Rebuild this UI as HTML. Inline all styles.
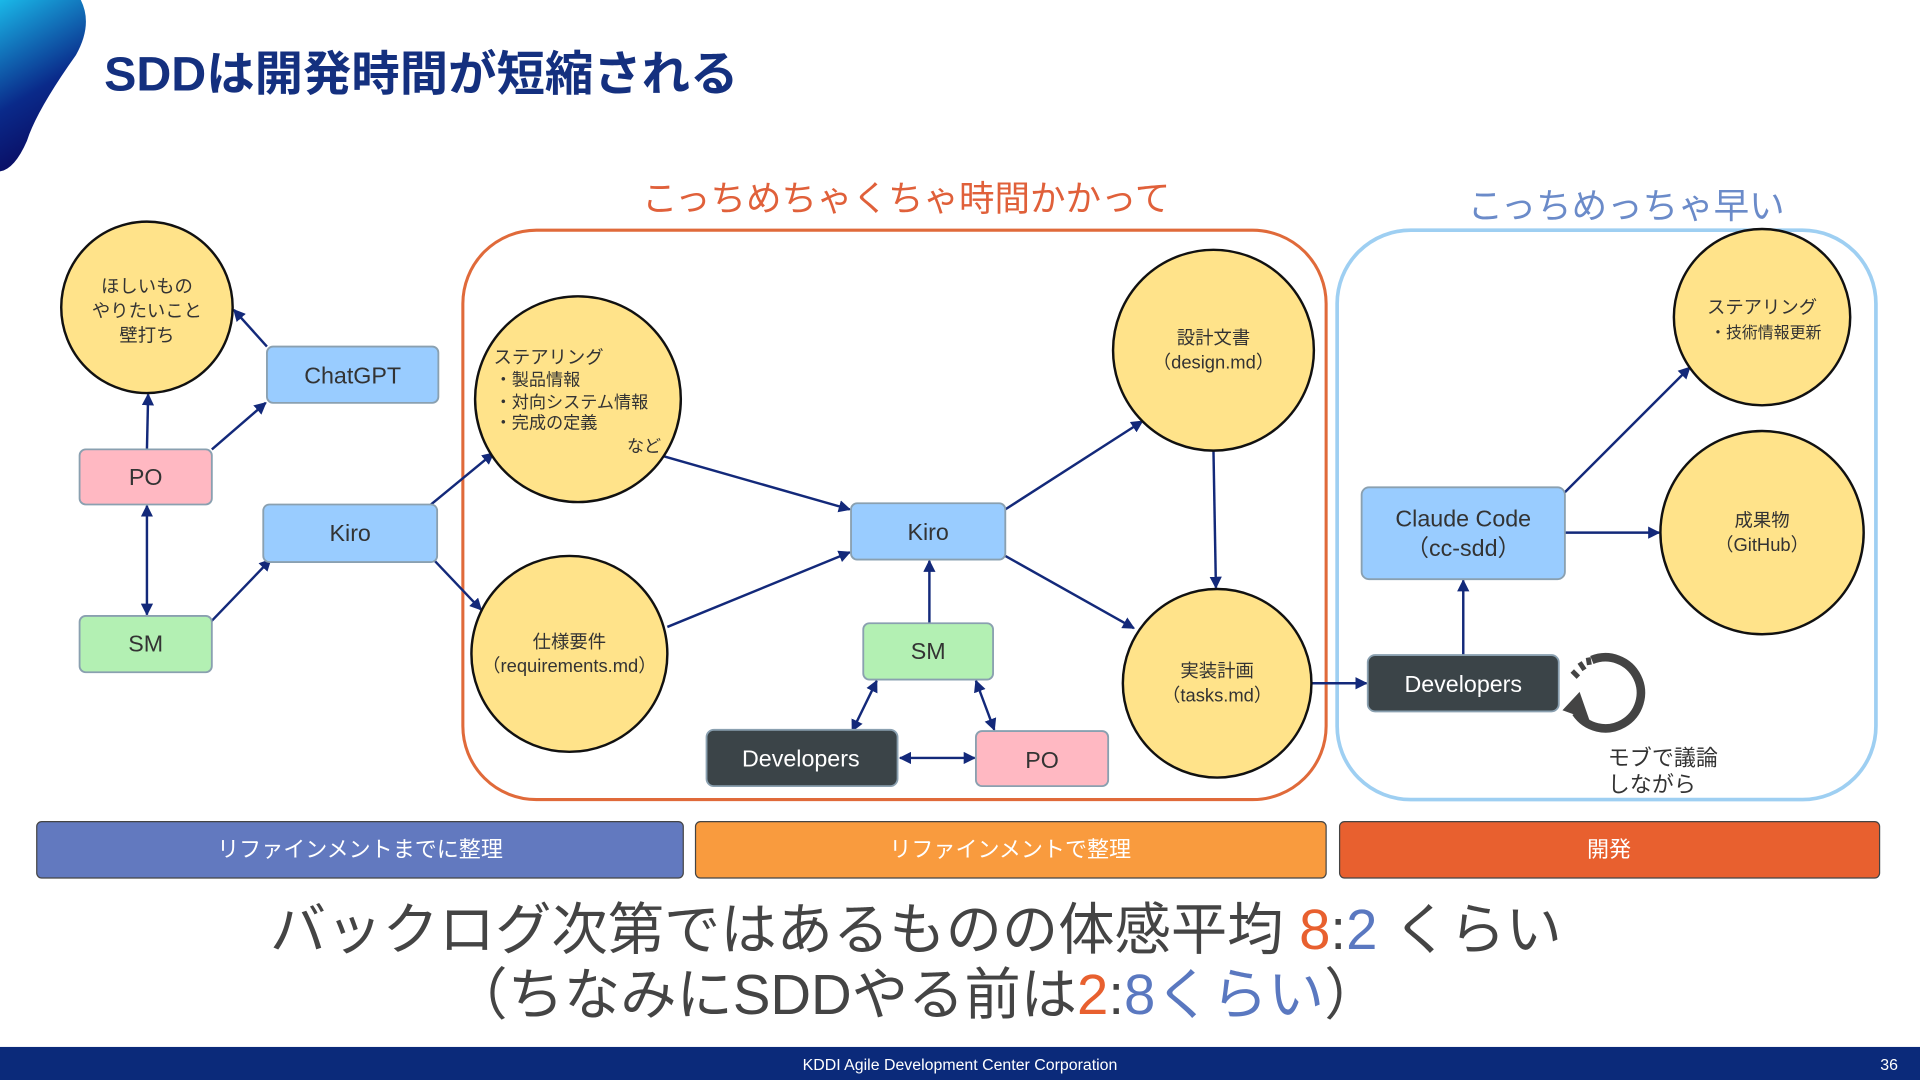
<!DOCTYPE html>
<html><head><meta charset="utf-8"><style>
html,body{margin:0;padding:0;background:#fff;width:1920px;height:1080px;overflow:hidden}
svg{display:block}
text{font-family:"Liberation Sans","Noto Sans CJK JP",sans-serif}
</style></head><body>
<svg width="1920" height="1080" viewBox="0 0 1568 882" xmlns="http://www.w3.org/2000/svg">
<defs>
<linearGradient id="g" x1="0" y1="0" x2="0.3" y2="1"><stop offset="0" stop-color="#1ab8e8"/><stop offset="0.6" stop-color="#0a2a8a"/><stop offset="1" stop-color="#0a0a60"/></linearGradient>
<marker id="a" viewBox="0 0 10 10" refX="9" refY="5" markerWidth="5" markerHeight="5" orient="auto-start-reverse"><path d="M0,0L10,5L0,10z" fill="#13297a"/></marker>
</defs>
<path d="M0,0 L66,0 Q76,20 62,45 Q30,90 22,115 Q12,138 0,140 Z" fill="url(#g)"/>
<text x="85" y="74" font-size="39" font-weight="bold" fill="#14307f" textLength="518" lengthAdjust="spacingAndGlyphs">SDDは開発時間が短縮される</text>

<text x="740" y="172" font-size="29" fill="#e0603a" text-anchor="middle">こっちめちゃくちゃ時間かかって</text>
<rect x="378" y="188" width="705" height="465" rx="60" fill="none" stroke="#e06a3a" stroke-width="2.5"/>
<text x="1328" y="178" font-size="29" fill="#6b8bc9" text-anchor="middle">こっちめっちゃ早い</text>
<rect x="1092" y="188" width="440" height="465" rx="60" fill="none" stroke="#9ecff2" stroke-width="3"/>

<g stroke="#13297a" stroke-width="2" fill="none" marker-end="url(#a)">
<line x1="120" y1="367" x2="121" y2="322"/>
<line x1="173" y1="367" x2="217" y2="329"/>
<line x1="218" y1="283" x2="191" y2="253"/>
<line x1="120" y1="413" x2="120" y2="502" marker-start="url(#a)"/>
<line x1="172" y1="508" x2="221" y2="457"/>
<line x1="352" y1="412" x2="403" y2="370"/>
<line x1="355" y1="458" x2="393" y2="498"/>
<line x1="540" y1="372" x2="694" y2="416"/>
<line x1="545" y1="512" x2="694" y2="451"/>
<line x1="821" y1="416" x2="933" y2="344"/>
<line x1="821" y1="454" x2="926" y2="513"/>
<line x1="991" y1="368" x2="993" y2="480"/>
<line x1="759" y1="509" x2="759" y2="458"/>
<line x1="716" y1="556" x2="696" y2="597" marker-start="url(#a)"/>
<line x1="797" y1="556" x2="812" y2="596" marker-start="url(#a)"/>
<line x1="735" y1="619" x2="796" y2="619" marker-start="url(#a)"/>
<line x1="1071" y1="558" x2="1116" y2="558"/>
<line x1="1195" y1="535" x2="1195" y2="474"/>
<line x1="1278" y1="402" x2="1380" y2="300"/>
<line x1="1278" y1="435" x2="1355" y2="435"/>
</g>

<g fill="#ffe38a" stroke="#111" stroke-width="2">
<circle cx="120" cy="251" r="70"/>
<circle cx="472" cy="326" r="84"/>
<circle cx="465" cy="534" r="80"/>
<circle cx="991" cy="286" r="82"/>
<circle cx="994" cy="558" r="77"/>
<circle cx="1439" cy="259" r="72"/>
<circle cx="1439" cy="435" r="83"/>
</g>
<g font-size="15" fill="#333" text-anchor="middle">
<text x="120" y="239">ほしいもの</text><text x="120" y="259">やりたいこと</text><text x="120" y="279">壁打ち</text>
<text x="465" y="529">仕様要件</text><text x="465" y="549">（requirements.md）</text>
<text x="991" y="281">設計文書</text><text x="991" y="301">（design.md）</text>
<text x="994" y="553">実装計画</text><text x="994" y="573">（tasks.md）</text>
<text x="1439" y="256">ステアリング</text><text x="1442" y="276" font-size="13">・技術情報更新</text>
<text x="1439" y="430">成果物</text><text x="1439" y="450">（GitHub）</text>
</g>
<g font-size="14" fill="#333">
<text x="403" y="297" font-size="15">ステアリング</text>
<text x="404" y="315">・製品情報</text>
<text x="404" y="333">・対向システム情報</text>
<text x="404" y="350">・完成の定義</text>
<text x="512" y="369">など</text>
</g>

<g stroke="#8aa0b0" stroke-width="1.5">
<rect x="218" y="283" width="140" height="46" rx="5" fill="#99ccff"/>
<rect x="65" y="367" width="108" height="45" rx="5" fill="#ffb8c2"/>
<rect x="215" y="412" width="142" height="47" rx="5" fill="#99ccff"/>
<rect x="65" y="503" width="108" height="46" rx="5" fill="#b3f0b3"/>
<rect x="695" y="411" width="126" height="46" rx="5" fill="#99ccff"/>
<rect x="705" y="509" width="106" height="46" rx="5" fill="#b3f0b3"/>
<rect x="577" y="596" width="156" height="46" rx="6" fill="#3b4448"/>
<rect x="797" y="597" width="108" height="45" rx="5" fill="#ffb8c2"/>
<rect x="1112" y="398" width="166" height="75" rx="6" fill="#99ccff"/>
<rect x="1117" y="535" width="156" height="46" rx="6" fill="#3b4448"/>
</g>
<g font-size="19" fill="#333" text-anchor="middle">
<text x="288" y="313">ChatGPT</text>
<text x="119" y="396">PO</text>
<text x="286" y="442">Kiro</text>
<text x="119" y="532">SM</text>
<text x="758" y="441">Kiro</text>
<text x="758" y="538">SM</text>
<text x="654" y="626" fill="#fff">Developers</text>
<text x="851" y="627">PO</text>
<text x="1195" y="430">Claude Code</text>
<text x="1195" y="454">（cc-sdd）</text>
<text x="1195" y="565" fill="#fff">Developers</text>
</g>

<path d="M1300,539 A29,29 0 1 1 1287,582" fill="none" stroke="#444" stroke-width="7"/>
<path d="M1276,580 L1290,565 L1298,588 Z" fill="#444"/>
<g stroke="#444" stroke-width="4"><line x1="1284" y1="548" x2="1289" y2="553"/><line x1="1290" y1="541" x2="1294" y2="547"/><line x1="1297" y1="537" x2="1298" y2="543"/></g>
<text x="1313" y="625" font-size="18" fill="#333">モブで議論</text>
<text x="1313" y="647" font-size="18" fill="#333">しながら</text>

<rect x="30" y="671" width="528" height="46" rx="4" fill="#6279bf" stroke="#444" stroke-width="1"/>
<rect x="568" y="671" width="515" height="46" rx="4" fill="#f99b3e" stroke="#444" stroke-width="1"/>
<rect x="1094" y="671" width="441" height="46" rx="4" fill="#e8602f" stroke="#444" stroke-width="1"/>
<g font-size="18" fill="#fff" text-anchor="middle">
<text x="294" y="700">リファインメントまでに整理</text>
<text x="825" y="700">リファインメントで整理</text>
<text x="1314" y="700">開発</text>
</g>

<text x="748" y="775" font-size="46" fill="#444" text-anchor="middle">バックログ次第ではあるものの体感平均 <tspan fill="#e8602f">8</tspan>:<tspan fill="#5a78c0">2</tspan> くらい</text>
<text x="748" y="828" font-size="46" fill="#444" text-anchor="middle">（ちなみにSDDやる前は<tspan fill="#e8602f">2</tspan>:<tspan fill="#5a78c0">8くらい</tspan>）</text>

<rect x="0" y="855" width="1568" height="27" fill="#0b2a7a"/>
<text x="784" y="874" font-size="13" fill="#fff" text-anchor="middle">KDDI Agile Development Center Corporation</text>
<text x="1550" y="874" font-size="13" fill="#fff" text-anchor="end">36</text>
</svg>
</body></html>
